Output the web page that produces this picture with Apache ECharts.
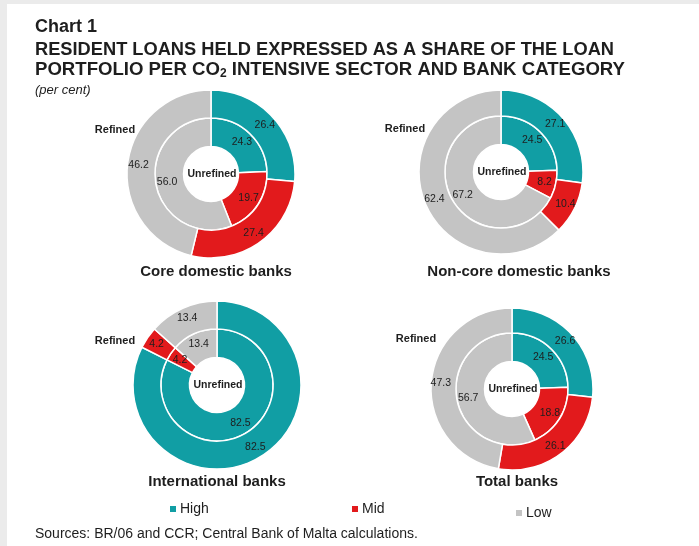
<!DOCTYPE html>
<html>
<head>
<meta charset="utf-8">
<script src="https://cdn.jsdelivr.net/npm/echarts@6/dist/echarts.min.js"></script>
<style>
  html, body { margin: 0; padding: 0; background: #fff; }
  #chart { width: 699px; height: 546px; }
</style>
</head>
<body>
<div id="chart"></div>
<script>
// Bank categories, one donut each
const banks = ['Core domestic banks', 'Non-core domestic banks', 'International banks', 'Total banks'];
// CO2 intensity levels
const levels = ['High', 'Mid', 'Low'];
// Inner ring: unrefined shares (per cent), order High, Mid, Low
const unrefined = [
  [24.3, 19.7, 56.0],
  [24.5, 8.2, 67.2],
  [82.5, 4.2, 13.4],
  [24.5, 18.8, 56.7]
];
// Outer ring: refined shares (per cent), order High, Mid, Low
const refined = [
  [26.4, 27.4, 46.2],
  [27.1, 10.4, 62.4],
  [82.5, 4.2, 13.4],
  [26.6, 26.1, 47.3]
];

const levelColors = { High: '#119ea4', Mid: '#e21a1c', Low: '#c4c4c4' };
const textColor = '#1e1e1e';

// Layout of each donut: centre, outer radius, caption position and the "Refined" tag
const layout = [
  { c: [211, 174], R: 84, cap: [216, 272], tag: [115, 130] },
  { c: [501, 172], R: 82, cap: [519, 272], tag: [405, 129] },
  { c: [217, 385], R: 84, cap: [217, 482], tag: [115, 341] },
  { c: [512, 389], R: 81, cap: [517, 482], tag: [416, 339] }
];
const holeR = 27.5;
const midR = 56;

function ring(values, center, r0, r1) {
  return {
    type: 'pie',
    center: center,
    radius: [r0, r1],
    startAngle: 90,
    clockwise: true,
    silent: true,
    avoidLabelOverlap: false,
    data: levels.map((name, k) => ({
      name: name,
      value: values[k],
      itemStyle: { color: levelColors[name] }
    })),
    itemStyle: { borderColor: '#ffffff', borderWidth: 1.5 },
    label: {
      show: true,
      position: 'inside',
      formatter: p => p.value.toFixed(1),
      fontFamily: 'Liberation Sans, Arial, sans-serif',
      fontSize: 10.5,
      color: textColor
    },
    labelLine: { show: false },
    emphasis: { disabled: true }
  };
}

const series = [];
banks.forEach((b, i) => {
  const L = layout[i];
  series.push(ring(unrefined[i], L.c, holeR, midR));
  series.push(ring(refined[i], L.c, midR, L.R));
});

const graphics = [
  // grey page frame on the left and top edges
  { type: 'rect', shape: { x: 0, y: 0, width: 7, height: 546 }, style: { fill: '#ebebeb' }, silent: true },
  { type: 'rect', shape: { x: 0, y: 0, width: 699, height: 4 }, style: { fill: '#ebebeb' }, silent: true },
  {
    type: 'text', left: 35, top: 18,
    style: { text: 'Chart 1', font: 'bold 18px "Liberation Sans", Arial, sans-serif', fill: textColor }
  },
  {
    type: 'text', left: 35, top: 41,
    style: {
      text: '{a|RESIDENT LOANS HELD EXPRESSED AS A SHARE OF THE LOAN}\n{b|PORTFOLIO PER CO}{s|2}{b| INTENSIVE SECTOR AND BANK CATEGORY}',
      rich: {
        a: { font: 'bold 18.25px "Liberation Sans", Arial, sans-serif', fill: textColor, lineHeight: 20 },
        b: { font: 'bold 18.6px "Liberation Sans", Arial, sans-serif', fill: textColor, lineHeight: 20 },
        s: { font: 'bold 12px "Liberation Sans", Arial, sans-serif', fill: textColor, lineHeight: 20, padding: [8, 0, 0, 0] }
      }
    }
  },
  {
    type: 'text', left: 35, top: 84,
    style: { text: '(per cent)', font: 'italic 13px "Liberation Sans", Arial, sans-serif', fill: textColor }
  },
  {
    type: 'text', left: 35, top: 527,
    style: { text: 'Sources: BR/06 and CCR; Central Bank of Malta calculations.', font: '14px "Liberation Sans", Arial, sans-serif', fill: textColor }
  }
];

banks.forEach((b, i) => {
  const L = layout[i];
  graphics.push({
    type: 'text', x: L.cap[0], y: L.cap[1],
    style: { text: b, font: 'bold 15px "Liberation Sans", Arial, sans-serif', fill: textColor, align: 'center', verticalAlign: 'middle' }
  });
  graphics.push({
    type: 'text', x: L.tag[0], y: L.tag[1],
    style: { text: 'Refined', font: 'bold 11px "Liberation Sans", Arial, sans-serif', fill: textColor, align: 'center', verticalAlign: 'middle' }
  });
  graphics.push({
    type: 'text', x: L.c[0] + 1, y: L.c[1],
    style: { text: 'Unrefined', font: 'bold 10.5px "Liberation Sans", Arial, sans-serif', fill: textColor, align: 'center', verticalAlign: 'middle' }
  });
});

function legendAt(name, left, top) {
  return {
    data: [name],
    left: left,
    top: top,
    padding: 0,
    icon: 'rect',
    itemWidth: 8,
    itemHeight: 8,
    itemGap: 0,
    selectedMode: false,
    textStyle: { fontFamily: 'Liberation Sans, Arial, sans-serif', fontSize: 14, color: textColor, padding: [0, 0, 0, -2] }
  };
}

const chart = echarts.init(document.getElementById('chart'), null, { renderer: 'canvas' });
chart.setOption({
  animation: false,
  backgroundColor: '#ffffff',
  legend: [
    legendAt('High', 168, 502),
    legendAt('Mid', 350, 502),
    legendAt('Low', 514, 506)
  ],
  series: series,
  graphic: graphics
});
</script>
</body>
</html>
